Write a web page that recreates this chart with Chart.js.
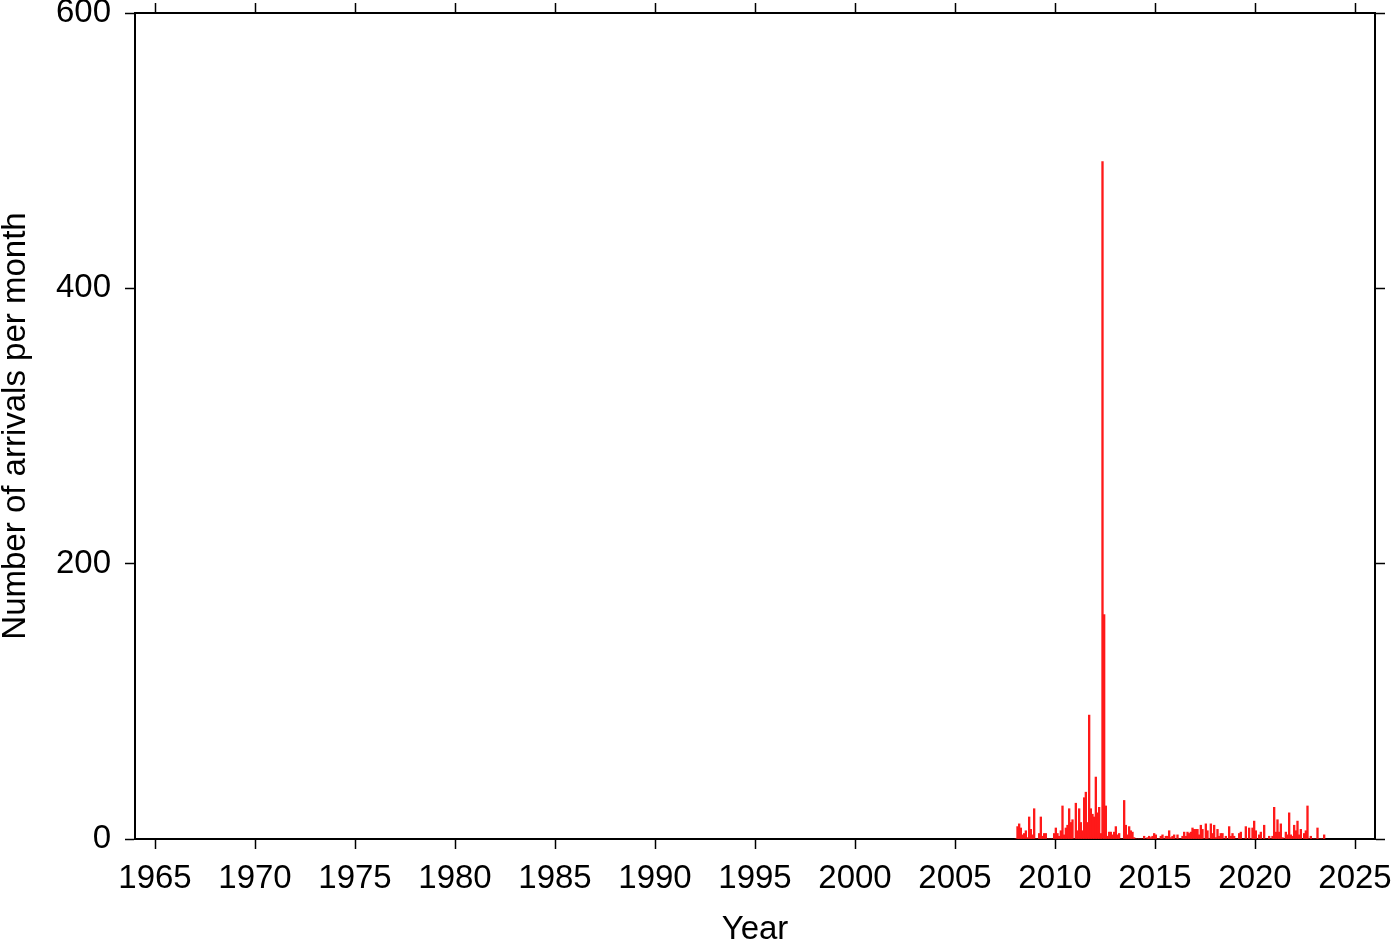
<!DOCTYPE html>
<html>
<head>
<meta charset="utf-8">
<script src="https://cdn.jsdelivr.net/npm/chart.js@4/dist/chart.umd.min.js"></script>
<style>
html,body{margin:0;padding:0;background:#fff;}
canvas{display:block;}
</style>
</head>
<body>
<canvas id="c" width="1400" height="942"></canvas>
<script>
// ---- data ----
const startYear = 2008; // first month = January 2008
const arrivals = [
  0, 9, 11, 8, 3, 4, 6, 1, 16, 7, 3, 22,
  0, 0, 4, 16, 2, 4, 4, 0, 0, 0, 0, 4,
  8, 4, 2, 6, 24, 3, 8, 10, 22, 12, 14, 0,
  26, 6, 22, 12, 6, 30, 34, 12, 90, 22, 18, 16,
  45, 19, 23, 4, 492, 163, 24, 2, 5, 5, 3, 5,
  9, 3, 4, 0, 0, 28, 10, 3, 9, 6, 5, 1,
  0, 0, 0, 0, 0, 2, 0, 1, 2, 1, 2, 4,
  3, 0, 0, 2, 3, 0, 2, 2, 6, 1, 2, 3,
  0, 3, 0, 0, 2, 5, 2, 5, 4, 5, 8, 7,
  7, 7, 3, 10, 7, 0, 11, 6, 0, 11, 4, 10,
  1, 7, 2, 4, 4, 0, 2, 0, 9, 2, 4, 2,
  0, 0, 4, 5, 0, 0, 9, 0, 8, 0, 8, 13,
  6, 0, 3, 5, 0, 10, 0, 0, 2, 0, 2, 23,
  5, 14, 5, 11, 1, 0, 5, 3, 19, 3, 2, 10,
  6, 13, 3, 7, 0, 4, 6, 24, 0, 2, 0, 0,
  0, 8, 0, 0, 0, 3
];
const xTickYears = [1965,1970,1975,1980,1985,1990,1995,2000,2005,2010,2015,2020,2025];
const yTickValues = [0,200,400,600];
const xRange = [1964, 2026];
const yRange = [0, 600];
const xTitle = 'Year';
const yTitle = 'Number of arrivals per month';

// month positions (year + fraction for middle of month)
const points = arrivals.map((v, i) => ({ x: startYear + (i + 0.5) / 12, y: v }));

const FONT = 'Liberation Sans, Arial, Helvetica, sans-serif';
const FS = 33;
const frame = { display: true, color: '#000', width: 2 };
const tickGrid = { drawOnChartArea: false, drawTicks: true, tickLength: 10, color: '#000', tickWidth: 1.5, offset: false };
const noPadH = s => { s.paddingLeft = 0; s.paddingRight = 0; };
const noPadV = s => { s.paddingTop = 0; s.paddingBottom = 0; };

new Chart(document.getElementById('c'), {
  type: 'bar',
  data: {
    datasets: [{
      data: points,
      backgroundColor: 'rgb(255,25,25)',
      borderWidth: 0,
      barPercentage: 1,
      categoryPercentage: 1,
      xAxisID: 'x',
      yAxisID: 'y'
    }]
  },
  options: {
    responsive: false,
    animation: false,
    devicePixelRatio: 1,
    layout: { padding: 0 },
    plugins: { legend: { display: false }, tooltip: { enabled: false } },
    scales: {
      x: {
        type: 'linear', position: 'bottom', min: xRange[0], max: xRange[1], offset: false,
        afterBuildTicks: s => { s.ticks = xTickYears.map(v => ({ value: v })); },
        ticks: { callback: v => String(v), font: { family: FONT, size: FS }, color: '#000', padding: 10, maxRotation: 0, autoSkip: false },
        grid: tickGrid, border: frame,
        title: { display: true, text: xTitle, color: '#000', font: { family: FONT, size: FS, lineHeight: 1 }, padding: { top: 0, bottom: -4 } },
        afterFit: s => { s.height = 103; noPadH(s); }
      },
      x2: {
        type: 'linear', position: 'top', min: xRange[0], max: xRange[1], offset: false,
        afterBuildTicks: s => { s.ticks = xTickYears.map(v => ({ value: v })); },
        ticks: { display: false },
        grid: tickGrid, border: frame,
        afterFit: s => { s.height = 13; noPadH(s); }
      },
      y: {
        type: 'linear', position: 'left', min: yRange[0], max: yRange[1],
        afterBuildTicks: s => { s.ticks = yTickValues.map(v => ({ value: v })); },
        ticks: { callback: v => String(v), font: { family: FONT, size: FS }, color: '#000', padding: 14 },
        grid: tickGrid, border: frame,
        title: { display: true, text: yTitle, color: '#000', font: { family: FONT, size: FS, lineHeight: 1 }, padding: { top: -1, bottom: 0 } },
        afterFit: s => { s.width = 135; noPadV(s); }
      },
      y2: {
        type: 'linear', position: 'right', min: yRange[0], max: yRange[1],
        afterBuildTicks: s => { s.ticks = yTickValues.map(v => ({ value: v })); },
        ticks: { display: false },
        grid: tickGrid, border: frame,
        afterFit: s => { s.width = 25; noPadV(s); }
      }
    }
  }
});
</script>
</body>
</html>
